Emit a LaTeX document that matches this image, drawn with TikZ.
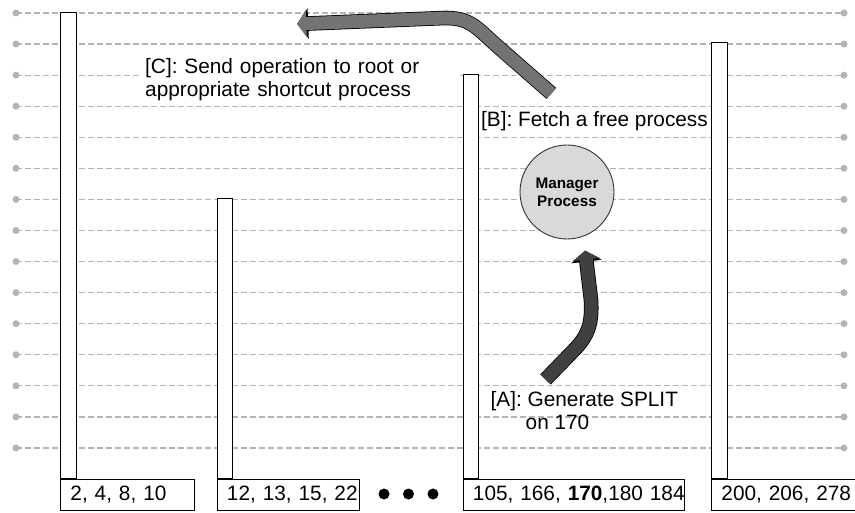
\documentclass[tikz,border=0pt]{standalone}
\usepackage{fontspec}
\setmainfont{Liberation Sans}
\usetikzlibrary{arrows.meta, calc}

\definecolor{gridgray}{RGB}{180,180,180}
\definecolor{mgrfill}{RGB}{217,217,217}
\definecolor{arrowdark}{RGB}{64,64,64}
\definecolor{arrowmid}{RGB}{115,115,115}
\newcommand{\bigtxt}{\fontsize{20.8}{23}\selectfont}

\begin{document}
\begin{tikzpicture}[
    x=1pt, y=-1pt,
    gridline/.style={draw=gridgray, line width=1.2pt, dash pattern=on 6pt off 3pt},
    bar/.style={rectangle, draw, fill=white, line width=0.8pt, minimum width=15.5pt, anchor=south west, inner sep=0pt},
    keybox/.style={rectangle, draw, fill=white, line width=0.9pt, anchor=north west, minimum height=31pt, inner xsep=10pt, inner ysep=0pt, text width=#1, align=left, font=\bigtxt},
    ellipdot/.style={circle, fill=black, inner sep=0pt, minimum size=11pt},
    mgr/.style={circle, draw=black!80, fill=mgrfill, line width=0.9pt, minimum size=94pt, inner sep=0pt, align=center, font=\bfseries\fontsize{15.3}{18.3}\selectfont},
    note/.style={inner sep=0pt, font=\bigtxt},
    fatarrow/.style={draw=#1, line width=13pt, shorten <=0.8pt, shorten >=1.2pt, -{Triangle[width=27pt,length=9pt]},
        preaction={draw=black, line width=14.6pt, -{Triangle[width=30pt,length=11pt]}}}
]
\useasboundingbox (0,0) rectangle (855,513);

% process lines
\foreach \i in {0,...,14}{
  \draw[gridline] (16,13+31.07*\i) -- (844,13+31.07*\i);
  \fill[gridgray] (16,13+31.07*\i) circle (3.5pt);
  \fill[gridgray] (844,13+31.07*\i) circle (3.5pt);
}

% nodes of the tree
\node[bar, minimum width=16pt, minimum height=466pt] (bar1) at (60,479) {};
\node[bar, minimum height=280pt] (bar2) at (216.5,479) {};
\node[bar, minimum height=404pt] (bar3) at (462.5,479) {};
\node[bar, minimum height=436pt] (bar4) at (711,479) {};

\node[keybox=114pt] (keys1) at (60,479) {2, 4, 8, 10};
\node[keybox=122pt] (keys2) at (216.5,479) {\mbox{12, 13, 15, 22}};
\node[keybox=201pt] (keys3) at (462.5,479) {\mbox{105, 166, \textbf{170},180 184}};
\node[keybox=130pt] (keys4) at (711,479) {\mbox{200, 206, 278}};

\foreach \x [count=\k] in {384,408.5,433}
  \node[ellipdot] (more\k) at (\x,494) {};

\node[mgr] (mgr) at (567,192) {Manager\\Process};

% steps
\node[note, fill=white, inner xsep=3pt, text width=312pt, align=left, anchor=base west] (txtC) at (142,74) {[C]: Send operation to root or\\appropriate shortcut process};
\node[note, anchor=base west] (txtB) at (481,127) {[B]: Fetch a free process};
\node[note, align=left, anchor=base west] (txtA) at (490.5,429) {[A]: Generate SPLIT\\\hspace*{35pt}on 170};

\coordinate (tailA) at (545,380);
\coordinate (tipA) at ($(mgr.south)+(18,10)$);
\draw[fatarrow=arrowdark] (tailA) -- (576,348) .. controls (590,333) and (592,320) .. (591,300) -- (tipA);

\coordinate (tailB) at (552,94);
\coordinate (tipB) at (296,24);
\draw[fatarrow=arrowmid] (tailB) -- (496,45) .. controls (476,27) and (470,18) .. (445,18) -- (tipB);
\end{tikzpicture}
\end{document}
